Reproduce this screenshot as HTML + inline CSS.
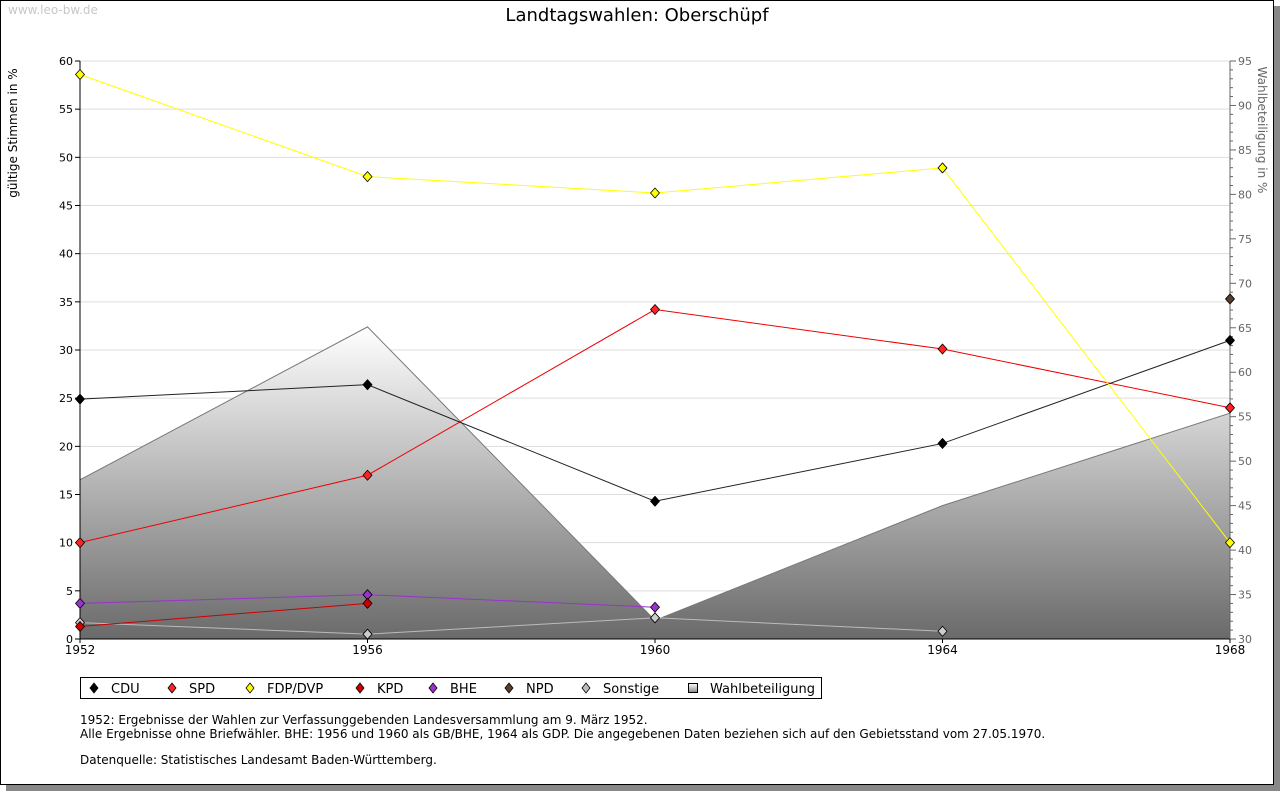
<!DOCTYPE html>
<html><head><meta charset="utf-8"><style>
body{margin:0;background:#fff;font-family:"DejaVu Sans","Liberation Sans",sans-serif}
#wrap{position:relative;width:1280px;height:791px;overflow:hidden;background:#fff}
</style></head><body>
<div id="wrap">
<svg id="svg" width="1280" height="791" xmlns="http://www.w3.org/2000/svg" font-family="DejaVu Sans, Liberation Sans, sans-serif">
<defs>
<linearGradient id="ag" gradientUnits="userSpaceOnUse" x1="0" y1="327" x2="0" y2="639"><stop offset="0" stop-color="#ffffff"/><stop offset="1" stop-color="#6a6a6a"/></linearGradient>
<linearGradient id="lg2" x1="0" y1="0" x2="0" y2="1"><stop offset="0" stop-color="#ffffff"/><stop offset="1" stop-color="#888"/></linearGradient></defs>
<rect x="6" y="785" width="1274" height="6" fill="#888"/>
<rect x="1274" y="6" width="6" height="785" fill="#888"/>
<rect x="0.5" y="0.5" width="1273" height="784" fill="#fff" stroke="#000"/>
<text x="8" y="14" font-size="12" fill="#c8c8c8">www.leo-bw.de</text>
<text x="637" y="21" font-size="18" text-anchor="middle" fill="#000">Landtagswahlen: Oberschüpf</text>
<g id="grid"></g><g id="area"></g><g id="axes"></g><g id="series"></g>
<text transform="translate(17,133) rotate(-90)" font-size="12" text-anchor="middle">gültige Stimmen in %</text>
<text transform="translate(1258,130) rotate(90)" font-size="12" text-anchor="middle" fill="#666">Wahlbeteiligung in %</text>
<g id="legend"></g>
<text x="80" y="724" font-size="12">1952: Ergebnisse der Wahlen zur Verfassunggebenden Landesversammlung am 9. März 1952.</text>
<text x="80" y="738" font-size="12">Alle Ergebnisse ohne Briefwähler. BHE: 1956 und 1960 als GB/BHE, 1964 als GDP. Die angegebenen Daten beziehen sich auf den Gebietsstand vom 27.05.1970.</text>
<text x="80" y="764" font-size="12">Datenquelle: Statistisches Landesamt Baden-Württemberg.</text>
</svg></div>
<script>
const years=[1952,1956,1960,1964,1968];
const cdu=[24.9,26.4,14.3,20.3,31.0];
const spd=[10.0,17.0,34.2,30.1,24.0];
const fdp=[58.6,48.0,46.3,48.9,10.0];
const kpd=[1.3,3.7,null,null,null];
const bhe=[3.7,4.6,3.3,null,null];
const npd=[null,null,null,null,35.3];
const sonst=[1.7,0.5,2.2,0.8,null];
const turnout=[47.9,65.1,32.1,45.0,55.4];
const leftTicks=[0,5,10,15,20,25,30,35,40,45,50,55,60];
const rightTicks=[30,35,40,45,50,55,60,65,70,75,80,85,90,95];
const NS='http://www.w3.org/2000/svg';
const X0=80,X1=1230,Y0=639,Y1=61;
const xs=y=>X0+(y-1952)/(1968-1952)*(X1-X0);
const yl=v=>Y0-v/60*(Y0-Y1);
const yr=v=>Y0-(v-30)/65*(Y0-Y1);
function mk(tag,attrs,parent){const e=document.createElementNS(NS,tag);for(const k in attrs)e.setAttribute(k,attrs[k]);document.getElementById(parent).appendChild(e);return e;}
leftTicks.forEach(t=>{
 if(t>0){const l=mk('line',{x1:X0,x2:X1,y1:yl(t),y2:yl(t),stroke:'#ddd'},'grid');
 
 }
 const tk=mk('line',{x1:X0-5,x2:X0,y1:yl(t),y2:yl(t),stroke:'#000'},'axes');
 
 
 const tx=mk('text',{x:X0-7,y:yl(t)+4,'font-size':11,'text-anchor':'end'},'axes');tx.textContent=t;
 
 
});
for(let v=30;v<=95;v++){const big=v%5===0;
 const tk=mk('line',{x1:X1,x2:X1+(big?6:3),y1:yr(v),y2:yr(v),stroke:'#666'},'axes');
 
 }
rightTicks.forEach(t=>{const tx=mk('text',{x:X1+8,y:yr(t)+4,'font-size':11,fill:'#666'},'axes');tx.textContent=t;
 
 });
let d='M'+xs(years[0])+','+Y0;years.forEach((y,i)=>d+=' L'+xs(y)+','+yr(turnout[i]));d+=' L'+xs(years[years.length-1])+','+Y0+' Z';
const ar=mk('path',{d:d,fill:'url(#ag)',stroke:'#777','stroke-width':1},'area');


[[X0,Y1,X0,Y0,'#000'],[X0,Y0,X1,Y0,'#000'],[X1,Y1,X1,Y0,'#666']].forEach(a=>{const l=mk('line',{x1:a[0],y1:a[1],x2:a[2],y2:a[3],stroke:a[4]},'axes');
 
 });
years.forEach(y=>{const tk=mk('line',{x1:xs(y),x2:xs(y),y1:Y0,y2:Y0+4,stroke:'#000'},'axes');
 
 
 const tx=mk('text',{x:xs(y),y:Y0+15,'font-size':12,'text-anchor':'middle'},'axes');tx.textContent=y;
 
 });
const series=[['sonstige',sonst,'#ccc','#bbb'],['bhe',bhe,'#9933cc','#9933cc'],['kpd',kpd,'#cc0000','#cc0000'],['spd',spd,'#ff2222','#ee0000'],['cdu',cdu,'#000','#222'],['fdp',fdp,'#ffff00','#ffff00'],['npd',npd,'#5a3e2b','#5a3e2b']];
series.forEach(s=>{
 let p='';s[1].forEach((v,i)=>{if(v!=null)p+=(p?' L':'M')+xs(years[i])+','+yl(v);});
 const ln=mk('path',{d:p,fill:'none',stroke:s[3],'stroke-width':1},'series');
 
 
 s[1].forEach((v,i)=>{if(v==null)return;const cx=xs(years[i]),cy=yl(v);
  const m=mk('path',{d:`M${cx},${cy-5} L${cx+4.5},${cy} L${cx},${cy+5} L${cx-4.5},${cy} Z`,fill:s[2],stroke:'#000','stroke-width':0.8,'stroke-linejoin':'round'},'series');
  
  });
});
const lg=mk('rect',{x:80.5,y:677.5,width:741,height:21,fill:'#fff',stroke:'#000'},'legend');


const entries=[['CDU','#000',94],['SPD','#ff2222',172],['FDP/DVP','#ffff00',250],['KPD','#cc0000',360],['BHE','#9933cc',433],['NPD','#5a3e2b',509],['Sonstige','#bbb',586]];
entries.forEach(e=>{const cx=e[2],cy=688;
 const m=mk('path',{d:`M${cx},${cy-5} L${cx+4},${cy} L${cx},${cy+5} L${cx-4},${cy} Z`,fill:e[1],stroke:'#000','stroke-width':0.8},'legend');
 
 
 const t=mk('text',{x:cx+17,y:693,'font-size':13},'legend');t.textContent=e[0];
 
 });
const sq=mk('rect',{x:688.5,y:683.5,width:9,height:9,fill:'url(#lg2)',stroke:'#000'},'legend');


const wt=mk('text',{x:710,y:693,'font-size':13},'legend');wt.textContent='Wahlbeteiligung';


</script>
</body></html>
